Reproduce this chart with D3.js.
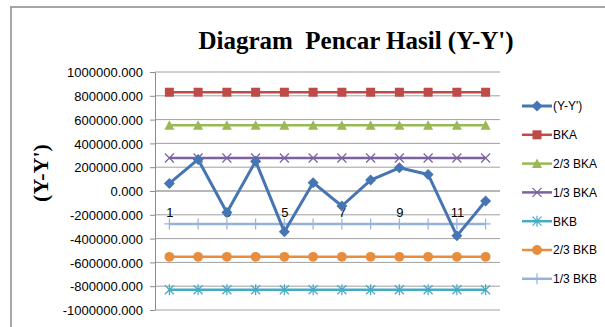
<!DOCTYPE html>
<html>
<head>
<meta charset="utf-8">
<script src="https://cdn.jsdelivr.net/npm/d3@7"></script>
<style>
  body { margin: 0; background: #fff; }
  .axis text { font-family: "Liberation Sans", Arial, sans-serif; font-size: 13px; fill: #000; }
</style>
</head>
<body>
<div id="container"></div>
<script>
const width = 605,
    height = 327,
    margin = { top: 72, bottom: 17, left: 155, right: 105 };

// DATA
const categories = [1, 2, 3, 4, 5, 6, 7, 8, 9, 10, 11, 12]
const categoryLabels = ["1", "", "3", "", "5", "", "7", "", "9", "", "11", ""]
const yTicks = [-1000000, -800000, -600000, -400000, -200000, 0, 200000, 400000, 600000, 800000, 1000000]
const seriesNames = ["(Y-Y')", "BKA", "2/3 BKA", "1/3 BKA", "BKB", "2/3 BKB", "1/3 BKB"]

const yyValues = [64000, 265000, -181000, 251000, -343000, 70000, -126000, 92000, 195000, 139000, -377000, -84000]
const bkaValues = [830000, 830000, 830000, 830000, 830000, 830000, 830000, 830000, 830000, 830000, 830000, 830000]
const bka23Values = [553000, 553000, 553000, 553000, 553000, 553000, 553000, 553000, 553000, 553000, 553000, 553000]
const bka13Values = [277000, 277000, 277000, 277000, 277000, 277000, 277000, 277000, 277000, 277000, 277000, 277000]
const bkbValues = [-830000, -830000, -830000, -830000, -830000, -830000, -830000, -830000, -830000, -830000, -830000, -830000]
const bkb23Values = [-553000, -553000, -553000, -553000, -553000, -553000, -553000, -553000, -553000, -553000, -553000, -553000]
const bkb13Values = [-277000, -277000, -277000, -277000, -277000, -277000, -277000, -277000, -277000, -277000, -277000, -277000]

const series = [
    { name: seriesNames[0], values: yyValues, color: "#4675B3", marker: "diamond", lw: 3 },
    { name: seriesNames[1], values: bkaValues, color: "#BE4B48", marker: "square", lw: 2.5 },
    { name: seriesNames[2], values: bka23Values, color: "#98B954", marker: "triangle", lw: 2.5 },
    { name: seriesNames[3], values: bka13Values, color: "#7D60A0", marker: "x", lw: 2.5 },
    { name: seriesNames[4], values: bkbValues, color: "#46AAC5", marker: "star", lw: 2.5 },
    { name: seriesNames[5], values: bkb23Values, color: "#E88C3E", marker: "circle", lw: 2.5 },
    { name: seriesNames[6], values: bkb13Values, color: "#96B2DA", marker: "plus", lw: 2.5 }
]

/** SCALES */
const xScale = d3.scalePoint()
    .domain(categories)
    .range([margin.left, width - margin.right])
    .padding(0.5)

const yScale = d3.scaleLinear()
    .domain([-1000000, 1000000])
    .range([height - margin.bottom, margin.top])

// hyphen minus like the original, not the unicode minus
const fmt = d3.formatLocale({ decimal: ".", thousands: "", grouping: [3], currency: ["", ""], minus: "-" }).format(".3f")

// marker shapes centred on 0,0
function markerPath(type) {
    switch (type) {
        case "diamond": return "M0,-5.5L5.5,0L0,5.5L-5.5,0Z"
        case "square": return "M-4.5,-4.5H4.5V4.5H-4.5Z"
        case "triangle": return "M0,-5L5,4.5H-5Z"
        case "circle": return d3.symbol(d3.symbolCircle, 75)()
        case "x": return "M-4.5,-4.5L4.5,4.5M-4.5,4.5L4.5,-4.5"
        case "star": return "M-4.5,-4.5L4.5,4.5M-4.5,4.5L4.5,-4.5M0,-5.5V5.5"
        case "plus": return "M0,-5.5V5.5M-5,0H5"
    }
}
const isStroke = t => t === "x" || t === "star" || t === "plus"

/* SVG */
const svg = d3.select("#container")
    .append("svg")
    .attr("width", width)
    .attr("height", height)

// chart frame (only top and left edges are in view)
svg.append("rect")
    .attr("x", 11)
    .attr("y", 7)
    .attr("width", 700)
    .attr("height", 400)
    .attr("fill", "none")
    .attr("stroke", "#A6A6A6")
    .attr("stroke-width", 2)

// GRIDLINES
svg.append("g")
    .selectAll("line")
    .data(yTicks)
    .join("line")
    .attr("x1", margin.left)
    .attr("x2", width - margin.right)
    .attr("y1", d => yScale(d))
    .attr("y2", d => yScale(d))
    .attr("stroke", "#A0A0A0")
    .attr("stroke-width", 1)

// Y AXIS
const yAxis = d3.axisLeft(yScale)
    .tickValues(yTicks)
    .tickFormat(fmt)
    .tickSize(5)
    .tickSizeOuter(0)
    .tickPadding(7)
svg.append("g")
    .attr("class", "axis")
    .attr("transform", `translate(${margin.left},0)`)
    .call(yAxis)
    .call(g => g.selectAll("line, path").attr("stroke", "#8C8C8C"))
    .call(g => g.selectAll("text").attr("dy", "0.36em"))

// X AXIS at zero
const xAxis = d3.axisBottom(xScale)
    .tickFormat((d, i) => categoryLabels[i])
    .tickSize(0)
    .tickPadding(17)
svg.append("g")
    .attr("class", "axis")
    .attr("transform", `translate(0,${yScale(0)})`)
    .call(xAxis)
    .call(g => g.select(".domain").attr("stroke", "#A0A0A0").attr("d", `M${margin.left},0H${width - margin.right}`))

// SERIES (drawn in reverse so (Y-Y') ends on top)
const line = d3.line()
    .x((d, i) => xScale(categories[i]))
    .y(d => yScale(d))

series.slice().reverse().forEach(s => {
    const g = svg.append("g")
    g.append("path")
        .attr("d", line(s.values))
        .attr("fill", "none")
        .attr("stroke", s.color)
        .attr("stroke-width", s.lw)
        .attr("stroke-linejoin", "round")
    g.selectAll("path.marker")
        .data(s.values)
        .join("path")
        .attr("class", "marker")
        .attr("transform", (d, i) => `translate(${xScale(categories[i])},${yScale(d)})`)
        .attr("d", markerPath(s.marker))
        .attr("fill", isStroke(s.marker) ? "none" : s.color)
        .attr("stroke", s.color)
        .attr("stroke-width", isStroke(s.marker) ? 1.2 : 0)
})

// LEGEND
const legend = svg.append("g")
    .selectAll("g")
    .data(series)
    .join("g")
    .attr("transform", (d, i) => `translate(522,${106 + i * 28.8})`)

legend.append("line")
    .attr("x1", 0)
    .attr("x2", 30)
    .attr("stroke", d => d.color)
    .attr("stroke-width", d => d.lw)

legend.append("path")
    .attr("transform", "translate(15,0)")
    .attr("d", d => markerPath(d.marker))
    .attr("fill", d => isStroke(d.marker) ? "none" : d.color)
    .attr("stroke", d => d.color)
    .attr("stroke-width", d => isStroke(d.marker) ? 1.2 : 0)

legend.append("text")
    .attr("x", 31)
    .attr("dy", "0.36em")
    .text(d => d.name)
    .style("font-family", "'Liberation Sans', Arial, sans-serif")
    .style("font-size", "12px")

// TITLE
svg.append("text")
    .attr("x", 356)
    .attr("y", 49)
    .attr("text-anchor", "middle")
    .text("Diagram  Pencar Hasil (Y-Y')")
    .style("font-family", "'Liberation Serif', 'Times New Roman', serif")
    .style("font-size", "25px")
    .style("font-weight", "bold")
    .style("white-space", "pre")

svg.append("text")
    .attr("transform", "translate(48,173) rotate(-90)")
    .attr("text-anchor", "middle")
    .text("(Y-Y')")
    .style("font-family", "'Liberation Serif', 'Times New Roman', serif")
    .style("font-size", "22px")
    .style("font-weight", "bold")
</script>
</body>
</html>
